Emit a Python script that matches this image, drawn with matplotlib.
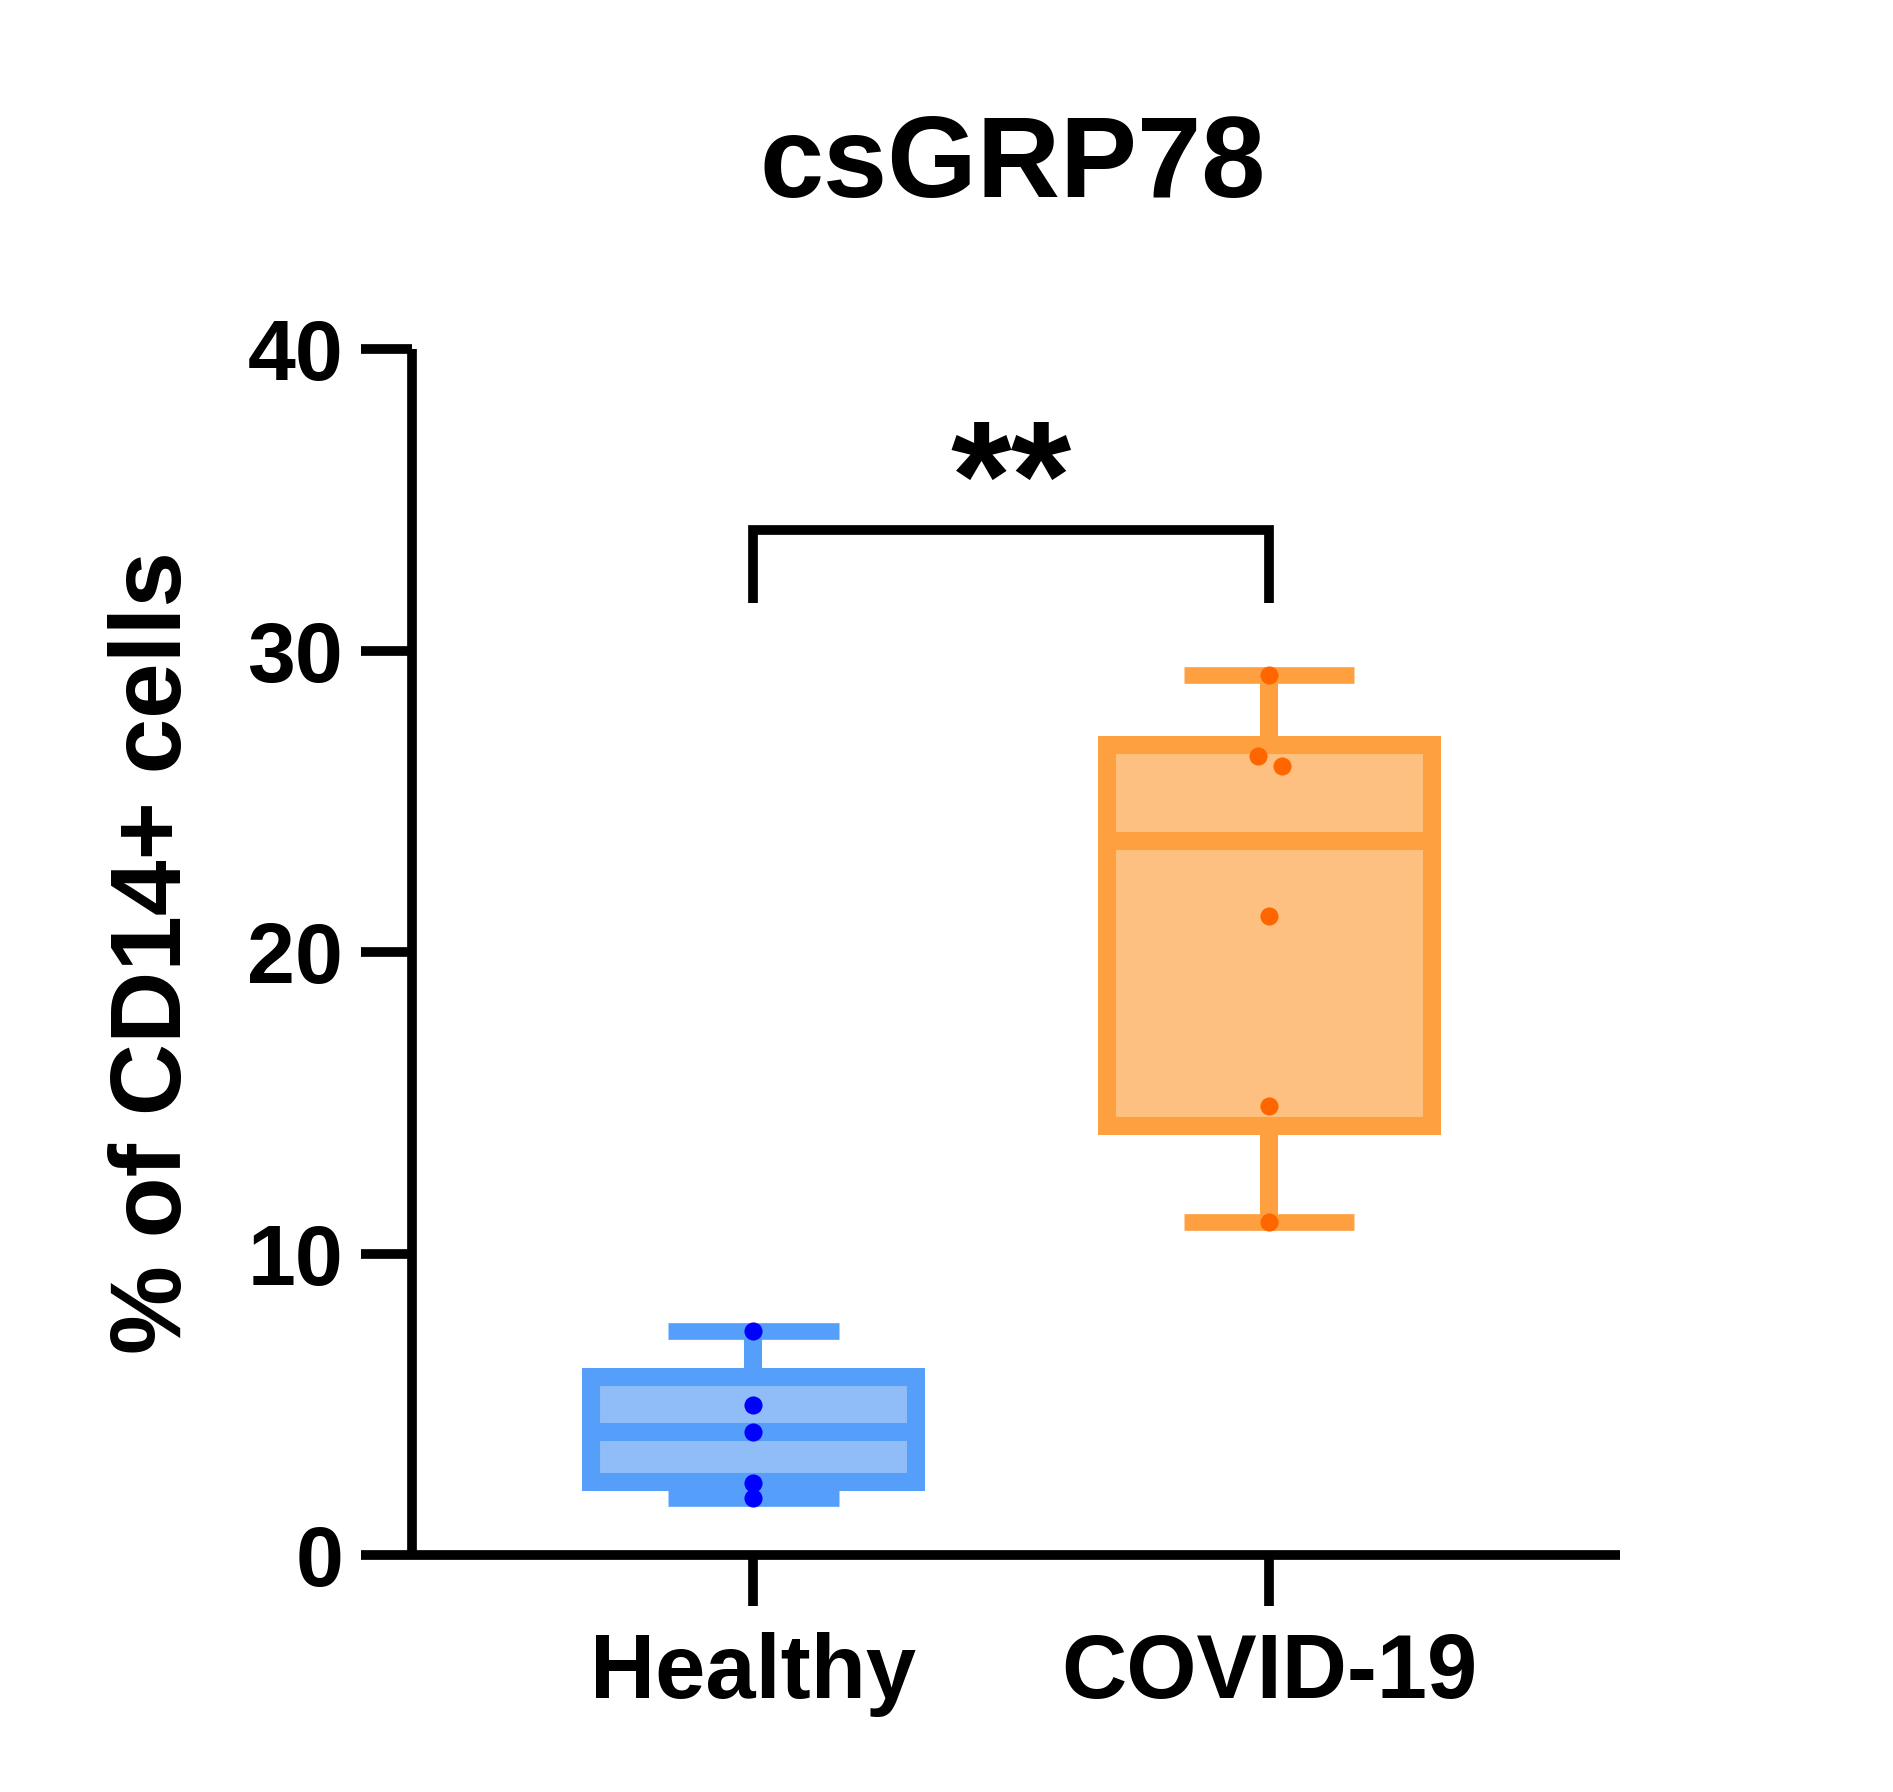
import numpy as np
import matplotlib
matplotlib.use('Agg')
from matplotlib import pyplot as plt

# values
groups = ['Healthy', 'COVID-19']
healthy = [7.45, 5.0, 4.1, 2.4, 1.9]
covid = [29.2, 26.5, 26.2, 21.2, 14.9, 11.07]
healthy_jitter = [0, 0, 0, 0, 0]
covid_jitter = [0, -0.022, 0.024, 0, 0, 0]
yticks = [0, 10, 20, 30, 40]
bracket_y = 34
bracket_leg = 31.6
sig_text = '**'

edge_cols = ['#559FFA', '#FFA040']
fill_cols = ['#90BDF8', '#FEC080']
dot_cols = ['#0000FF', '#FF6600']

plt.rcParams['font.family'] = ['Liberation Sans', 'DejaVu Sans']
plt.rcParams['font.weight'] = 'bold'

fig = plt.figure(figsize=(18.93, 17.92), dpi=100)
ax = fig.add_axes([0.2179, 0.132, 0.8558 - 0.2179, 0.805 - 0.132])


def stats(vals, label):
    v = np.array(vals)
    q1, med, q3 = np.percentile(v, [25, 50, 75], method='weibull')
    return dict(med=med, q1=q1, q3=q3, whislo=v.min(), whishi=v.max(),
                fliers=[], label=label)


data = [healthy, covid]
pos = [0, 1]
bp = ax.bxp([stats(d, g) for d, g in zip(data, groups)], positions=pos,
            widths=0.664, capwidths=0.33, patch_artist=True, showfliers=False)

for i in range(2):
    box = bp['boxes'][i]
    box.set_facecolor(fill_cols[i])
    box.set_edgecolor(edge_cols[i])
    box.set_linewidth(26)
    box.set_clip_path(box)
    bp['medians'][i].set(color=edge_cols[i], linewidth=13, solid_capstyle='butt')
    for w in bp['whiskers'][2 * i:2 * i + 2]:
        w.set(color=edge_cols[i], linewidth=13, solid_capstyle='butt')
    for c in bp['caps'][2 * i:2 * i + 2]:
        c.set(color=edge_cols[i], linewidth=12, solid_capstyle='butt')

ax.scatter(np.array(healthy_jitter) + pos[0], healthy, s=170, color=dot_cols[0],
           zorder=5, linewidths=0)
ax.scatter(np.array(covid_jitter) + pos[1], covid, s=170, color=dot_cols[1],
           zorder=5, linewidths=0)

# significance bracket
ax.plot([pos[0], pos[0], pos[1], pos[1]], [bracket_leg, bracket_y, bracket_y, bracket_leg],
        color='black', lw=7, clip_on=False, solid_joinstyle='miter', solid_capstyle='butt')
ax.text(np.mean(pos), bracket_y - 1.0, sig_text, ha='center', va='bottom',
        fontsize=112, fontweight='bold')

ax.set_xlim(-0.661, 1.68)
ax.set_ylim(0, 40)
ax.set_yticks(yticks)
ax.set_xticks(pos)
ax.set_xticklabels(groups)
for s in ['top', 'right']:
    ax.spines[s].set_visible(False)
for s in ['left', 'bottom']:
    ax.spines[s].set_linewidth(7)
    ax.spines[s].set_capstyle('butt')
ax.tick_params(axis='both', length=37, width=7, direction='out')
ax.tick_params(axis='y', labelsize=62, pad=13)
ax.tick_params(axis='x', labelsize=65, pad=18)
for lab in ax.get_xticklabels() + ax.get_yticklabels():
    lab.set_fontweight('bold')

fig.text(0.082, 0.4685, '% of CD14+ cells', rotation=90, ha='center', va='center',
         fontsize=72, fontweight='bold')
fig.text(0.535, 0.890, 'csGRP78', ha='center', va='baseline', fontsize=83,
         fontweight='bold')

fig.savefig('out.png', dpi=100)
